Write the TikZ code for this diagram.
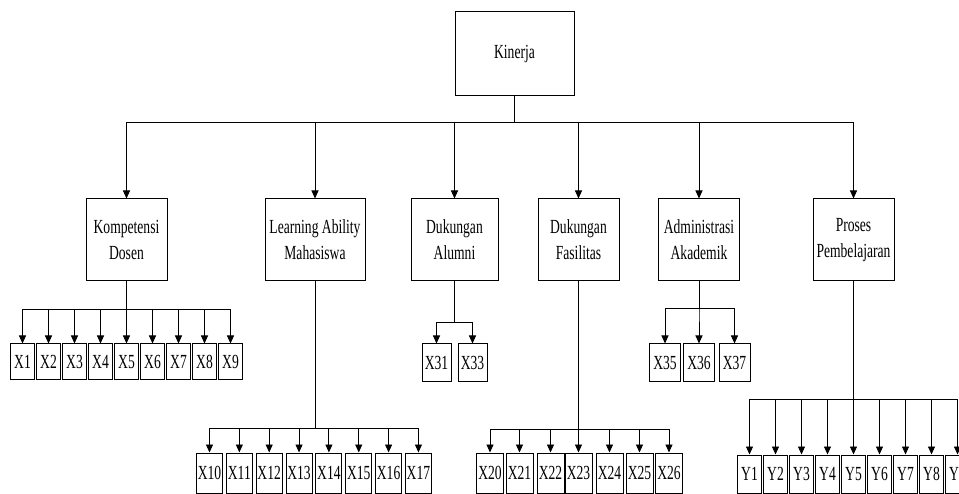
\documentclass[tikz,border=0pt]{standalone}
\usepackage{fontspec}
\setmainfont[FakeStretch=0.68]{Liberation Serif}
\usetikzlibrary{arrows.meta}
\begin{document}
\begin{tikzpicture}[x=1pt,y=-1pt,
  box/.style={draw,line width=1pt,inner sep=0pt,align=center,font=\fontsize{20}{26}\selectfont},
  mid/.style={box,minimum width=81pt,minimum height=82pt},
  arr/.style={line width=0.9pt,-{Triangle[length=8pt,width=7pt]}},
  ]
\useasboundingbox (0,0) rectangle (959,494);
\clip (0,0) rectangle (959,494);

% top
\node[box,minimum width=119pt,minimum height=84pt] (k) at (514.5,54) {Kinerja};
\coordinate (bk) at (0,122);

% level 2
\node[mid] (kd) at (126.5,240) {Kompetensi\\Dosen};
\node[mid,minimum width=100pt] (la) at (315,240) {Learning Ability\\Mahasiswa};
\node[mid,minimum width=87pt] (da) at (454.5,240) {Dukungan\\Alumni};
\node[mid] (df) at (578.5,240) {Dukungan\\Fasilitas};
\node[mid] (aa) at (699,240) {Administrasi\\Akademik};
\node[mid] (pp) at (853.5,240) {Proses\\Pembelajaran};

\foreach \c in {kd,la,da,df,aa,pp}{
  \draw[arr] (k.south) -- (k.south |- bk) -| (\c.north);
}

% Kompetensi Dosen leaves
\coordinate (bkd) at (0,309);
\foreach \i [count=\n from 0] in {1,...,9}{
  \node[box,minimum width=23.5pt,minimum height=36pt] (x\i) at ({22.5+26*\n},362) {X\i};
  \draw[arr] (kd.south) -- (kd.south |- bkd) -| (x\i.north);
}

% Learning Ability leaves
\coordinate (bla) at (0,428);
\foreach \i [count=\n from 0] in {10,...,17}{
  \node[box,minimum width=26pt,minimum height=40pt] (x\i) at ({209.5+29.85*\n},473) {X\i};
  \draw[arr] (la.south) -- (la.south |- bla) -| (x\i.north);
}

% Dukungan Alumni leaves
\coordinate (bda) at (0,322);
\node[box,minimum width=29pt,minimum height=38pt] (x31) at (436.5,363) {X31};
\node[box,minimum width=29pt,minimum height=38pt] (x33) at (472.5,363) {X33};
\foreach \c in {x31,x33}{
  \draw[arr] (da.south) -- (da.south |- bda) -| (\c.north);
}

% Dukungan Fasilitas leaves
\coordinate (bdf) at (0,429);
\foreach \i/\xx in {20/490,21/519.5,22/550.5,23/578.5,24/609.5,25/639.5,26/669}{
  \node[box,minimum width=27pt,minimum height=40pt] (x\i) at (\xx,473) {X\i};
  \draw[arr] (df.south) -- (df.south |- bdf) -| (x\i.north);
}

% Administrasi Akademik leaves
\coordinate (baa) at (0,308);
\foreach \i/\xx in {35/665,36/699,37/734.5}{
  \node[box,minimum width=31pt,minimum height=38pt] (x\i) at (\xx,363) {X\i};
  \draw[arr] (aa.south) -- (aa.south |- baa) -| (x\i.north);
}

% Proses Pembelajaran leaves
\coordinate (bpp) at (0,399);
\foreach \i [count=\n from 0] in {1,...,9}{
  \node[box,minimum width=24.5pt,minimum height=38pt] (y\i) at ({749.5+26*\n},474) {Y\i};
  \draw[arr] (pp.south) -- (pp.south |- bpp) -| (y\i.north);
}
\end{tikzpicture}
\end{document}
